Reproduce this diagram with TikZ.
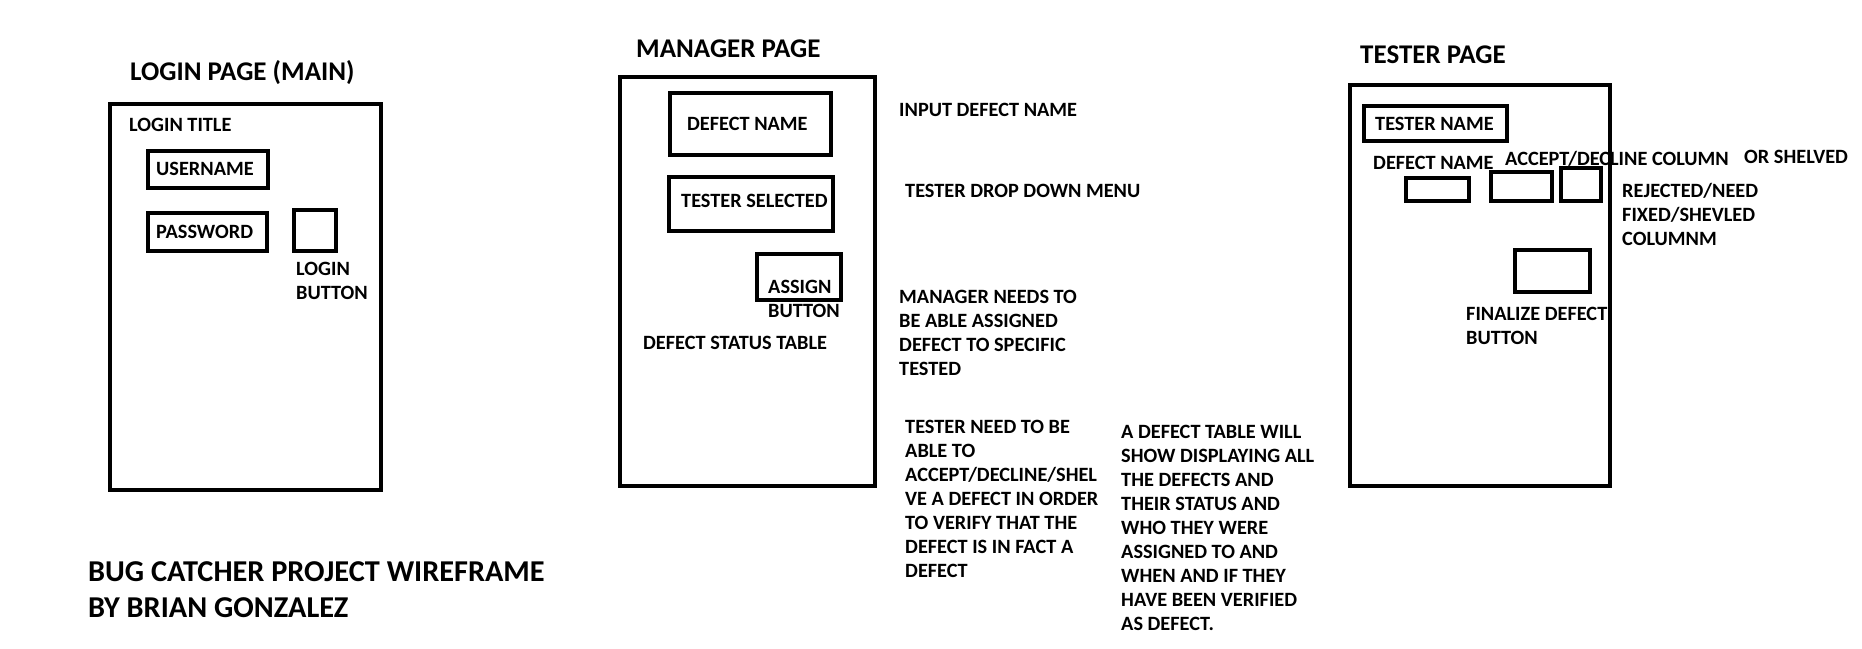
\documentclass[tikz,border=0pt]{standalone}
\usepackage{fontspec}
\setmainfont{Carlito}
\newcommand{\stack}[1]{\begin{tabular}[t]{@{}l@{}}#1\end{tabular}}
\tikzset{
  frame/.style={draw=black, line width=4.4pt},
  txt/.style={anchor=base west, inner sep=0pt, font=\bfseries\fontsize{20.3}{24}\selectfont},
  head/.style={anchor=base west, inner sep=0pt, font=\bfseries\fontsize{27}{32}\selectfont},
  big/.style={anchor=base west, inner sep=0pt, font=\bfseries\fontsize{30.3}{36}\selectfont},
}
\begin{document}
\begin{tikzpicture}[x=1pt, y=-1pt]
\useasboundingbox[fill=white] (0,0) rectangle (1862,648);

% ---- login page ----
\node[head] (loginhead) at (130,80) {LOGIN PAGE (MAIN)};
\draw[frame] (110,104) rectangle (381,490);
\node[txt] (logintitle) at (129,131) {LOGIN TITLE};
\draw[frame] (148,151) rectangle (268,188);
\node[txt] (user) at (156,175) {USERNAME};
\draw[frame] (148,213) rectangle (267,251);
\node[txt] (pass) at (156,238) {PASSWORD};
\draw[frame] (294,210) rectangle (336,251);
\node[txt] (loginbtn) at (296,275) {\stack{LOGIN\\BUTTON}};

% ---- manager page ----
\node[head] (mgrhead) at (636,57) {MANAGER PAGE};
\draw[frame] (620,77) rectangle (875,486);
\draw[frame] (670,93) rectangle (831,155);
\node[txt] (mgrdefect) at (687,130) {DEFECT NAME};
\draw[frame] (669,177) rectangle (833,231);
\node[txt] (testersel) at (681,207) {TESTER SELECTED};
\draw[frame] (757,254) rectangle (841,300);
\node[txt] (assign) at (768,293) {\stack{ASSIGN\\BUTTON}};
\node[txt] (status) at (643,349) {DEFECT STATUS TABLE};

\node[txt] (inputnote) at (899,116) {INPUT DEFECT NAME};
\node[txt] (dropnote) at (905,197) {TESTER DROP DOWN MENU};
\node[txt] (assignnote) at (899,303) {\stack{MANAGER NEEDS TO\\BE ABLE ASSIGNED\\DEFECT TO SPECIFIC\\TESTED}};
\node[txt] (testernote) at (905,433) {\stack{TESTER NEED TO BE\\ABLE TO\\ACCEPT/DECLINE/SHEL\\VE A DEFECT IN ORDER\\TO VERIFY THAT THE\\DEFECT IS IN FACT A\\DEFECT}};
\node[txt] (tablenote) at (1121,438) {\stack{A DEFECT TABLE WILL\\SHOW DISPLAYING ALL\\THE DEFECTS AND\\THEIR STATUS AND\\WHO THEY WERE\\ASSIGNED TO AND\\WHEN AND IF THEY\\HAVE BEEN VERIFIED\\AS DEFECT.}};

% ---- tester page ----
\node[head] (testhead) at (1360,63) {TESTER PAGE};
\draw[frame] (1350,85) rectangle (1610,486);
\draw[frame] (1364,106) rectangle (1507,141);
\node[txt] (testername) at (1375,130) {TESTER NAME};
\node[txt] (tdefect) at (1373,169) {DEFECT NAME};
\node[txt] (acccol) at (1505,165) {ACCEPT/DECLINE COLUMN};
\node[txt] (shelved) at (1744,163) {OR SHELVED};
\draw[frame] (1406,178) rectangle (1469,201);
\draw[frame] (1491,172) rectangle (1552,201);
\draw[frame] (1561,168) rectangle (1601,201);
\node[txt] (rejnote) at (1622,197) {\stack{REJECTED/NEED\\FIXED/SHEVLED\\COLUMNM}};
\draw[frame] (1515,250) rectangle (1590,292);
\node[txt] (finalize) at (1466,320) {\stack{FINALIZE DEFECT\\BUTTON}};

% ---- caption ----
\node[big] (caption) at (88,581) {\stack{BUG CATCHER PROJECT WIREFRAME\\BY BRIAN GONZALEZ}};
\end{tikzpicture}
\end{document}
